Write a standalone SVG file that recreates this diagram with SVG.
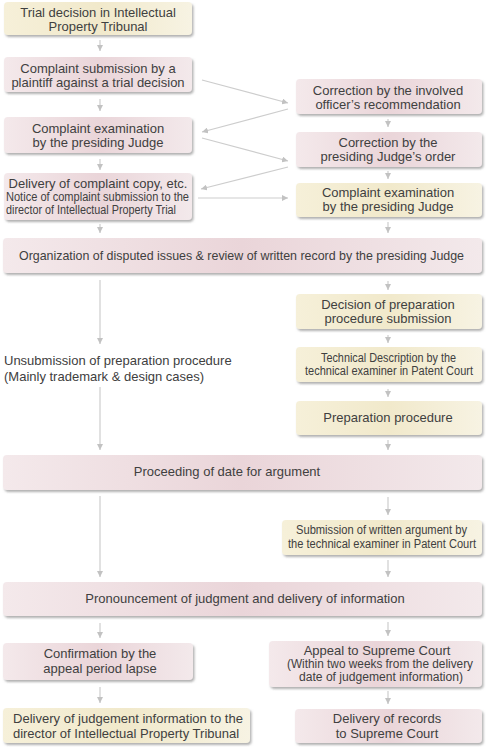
<svg xmlns="http://www.w3.org/2000/svg" width="491" height="750" viewBox="0 0 491 750">
<defs>
<linearGradient id="gp" x1="0" y1="0" x2="1" y2="0">
<stop offset="0" stop-color="#f4e9eb"/>
<stop offset="0.5" stop-color="#ead5d9"/>
<stop offset="1" stop-color="#f3e9eb"/>
</linearGradient>
<linearGradient id="gy" x1="0" y1="0" x2="1" y2="0">
<stop offset="0" stop-color="#f6f0d9"/>
<stop offset="0.5" stop-color="#f1e9cb"/>
<stop offset="1" stop-color="#f7f3e3"/>
</linearGradient>
<filter id="sh" x="-5%" y="-20%" width="110%" height="150%">
<feDropShadow dx="1.5" dy="2" stdDeviation="0.9" flood-color="#6f6f6f" flood-opacity="0.55"/>
</filter>
<marker id="ah" viewBox="0 0 6 6" refX="6" refY="3" markerWidth="6" markerHeight="6" markerUnits="userSpaceOnUse" orient="auto">
<path d="M0,0 L6,3 L0,6 z" fill="#c2c2c2"/>
</marker>
</defs>
<style>
.p{fill:url(#gp);filter:url(#sh)}
.y{fill:url(#gy);filter:url(#sh)}
text{font-family:"Liberation Sans",Arial,sans-serif;font-size:13px;fill:#404040;text-anchor:middle}
.s{font-size:12px}
.l{text-anchor:start}
.c line{stroke:#cdcdcd;stroke-width:1.2;marker-end:url(#ah)}
</style>

<g class="c" id="connectors">
<line x1="100" y1="40" x2="100" y2="51"/>
<line x1="100" y1="99" x2="100" y2="111"/>
<line x1="100" y1="159" x2="100" y2="170"/>
<line x1="100" y1="224" x2="100" y2="233"/>
<line x1="202" y1="80" x2="288" y2="103"/>
<line x1="288" y1="109" x2="202" y2="132"/>
<line x1="202" y1="138" x2="288" y2="161"/>
<line x1="288" y1="167" x2="201" y2="189"/>
<line x1="198" y1="198" x2="288" y2="198"/>
<line x1="388" y1="119" x2="388" y2="127"/>
<line x1="388" y1="171" x2="388" y2="179"/>
<line x1="388" y1="222" x2="388" y2="233"/>
<line x1="388" y1="281" x2="388" y2="290"/>
<line x1="388" y1="335" x2="388" y2="343"/>
<line x1="388" y1="389" x2="388" y2="397"/>
<line x1="388" y1="440" x2="388" y2="450"/>
<line x1="100" y1="280" x2="100" y2="344"/>
<line x1="100" y1="387" x2="100" y2="450"/>
<line x1="100" y1="496" x2="100" y2="577"/>
<line x1="388" y1="497" x2="388" y2="515"/>
<line x1="388" y1="560" x2="388" y2="577"/>
<line x1="100" y1="623" x2="100" y2="638"/>
<line x1="388" y1="622" x2="388" y2="636"/>
<line x1="100" y1="687" x2="100" y2="703"/>
<line x1="388" y1="691" x2="388" y2="704"/>
</g>

<g id="n1"><rect class="y" x="4" y="2" width="188" height="33" rx="4"/>
<text x="98" y="17">Trial decision in Intellectual</text><text x="98" y="31">Property Tribunal</text></g>

<g id="n2"><rect class="p" x="4" y="57" width="188" height="35" rx="4"/>
<text x="98" y="73">Complaint submission by a</text><text x="98" y="87">plaintiff against a trial decision</text></g>

<g id="n3"><rect class="p" x="4" y="117" width="188" height="36" rx="4"/>
<text x="98" y="133">Complaint examination</text><text x="98" y="147">by the presiding Judge</text></g>

<g id="n4"><rect class="p" x="4" y="173" width="188" height="47" rx="4"/>
<text x="98" y="188">Delivery of complaint copy, etc.</text>
<text class="s" x="97.5" y="201" textLength="183" lengthAdjust="spacingAndGlyphs">Notice of complaint submission to the</text>
<text class="s" x="91" y="214" textLength="170" lengthAdjust="spacingAndGlyphs">director of Intellectual Property Trial</text></g>

<g id="n5"><rect class="p" x="296" y="79" width="186" height="35" rx="4"/>
<text x="388" y="95">Correction by the involved</text><text x="388" y="109">officer’s recommendation</text></g>

<g id="n6"><rect class="p" x="296" y="132" width="186" height="35" rx="4"/>
<text x="388" y="147">Correction by the</text><text x="388" y="161">presiding Judge’s order</text></g>

<g id="n7"><rect class="y" x="296" y="183" width="186" height="34" rx="4"/>
<text x="388" y="197">Complaint examination</text><text x="388" y="211">by the presiding Judge</text></g>

<g id="n8"><rect class="p" x="3" y="238" width="479" height="35" rx="4"/>
<text x="241.5" y="260" textLength="445" lengthAdjust="spacingAndGlyphs">Organization of disputed issues &amp; review of written record by the presiding Judge</text></g>

<g id="n9"><rect class="y" x="296" y="294" width="186" height="35" rx="4"/>
<text x="388" y="309">Decision of preparation</text><text x="388" y="323">procedure submission</text></g>

<g id="n10"><rect class="y" x="296" y="347" width="186" height="35" rx="4"/>
<text class="s" x="388.5" y="362" textLength="135" lengthAdjust="spacingAndGlyphs">Technical Description by the</text>
<text class="s" x="389" y="375" textLength="168" lengthAdjust="spacingAndGlyphs">technical examiner in Patent Court</text></g>

<g id="n11"><rect class="y" x="296" y="401" width="186" height="34" rx="4"/>
<text x="388" y="422">Preparation procedure</text></g>

<g id="n12"><text class="l" x="4" y="365">Unsubmission of preparation procedure</text>
<text class="l" x="4" y="381">(Mainly trademark &amp; design cases)</text></g>

<g id="n13"><rect class="p" x="3" y="455" width="479" height="35" rx="4"/>
<text x="227" y="476">Proceeding of date for argument</text></g>

<g id="n14"><rect class="y" x="282" y="520" width="200" height="35" rx="4"/>
<text class="s" x="381.5" y="534" textLength="171" lengthAdjust="spacingAndGlyphs">Submission of written argument by</text>
<text class="s" x="382" y="548" textLength="188" lengthAdjust="spacingAndGlyphs">the technical examiner in Patent Court</text></g>

<g id="n15"><rect class="p" x="3" y="582" width="479" height="34" rx="4"/>
<text x="245" y="603">Pronouncement of judgment and delivery of information</text></g>

<g id="n16"><rect class="p" x="3" y="643" width="190" height="37" rx="4"/>
<text x="100" y="658">Confirmation by the</text><text x="100" y="673">appeal period lapse</text></g>

<g id="n17"><rect class="p" x="269" y="641" width="213" height="46" rx="4"/>
<text x="377" y="655">Appeal to Supreme Court</text>
<text class="s" x="380" y="668" textLength="186" lengthAdjust="spacingAndGlyphs">(Within two weeks from the delivery</text>
<text class="s" x="381" y="681" textLength="164" lengthAdjust="spacingAndGlyphs">date of judgement information)</text></g>

<g id="n18"><rect class="y" x="3" y="708" width="247" height="35" rx="4"/>
<text x="128" y="723">Delivery of judgement information to the</text><text x="126" y="738">director of Intellectual Property Tribunal</text></g>

<g id="n19"><rect class="p" x="295" y="709" width="187" height="34" rx="4"/>
<text x="387" y="723">Delivery of records</text><text x="387" y="738">to Supreme Court</text></g>
</svg>
